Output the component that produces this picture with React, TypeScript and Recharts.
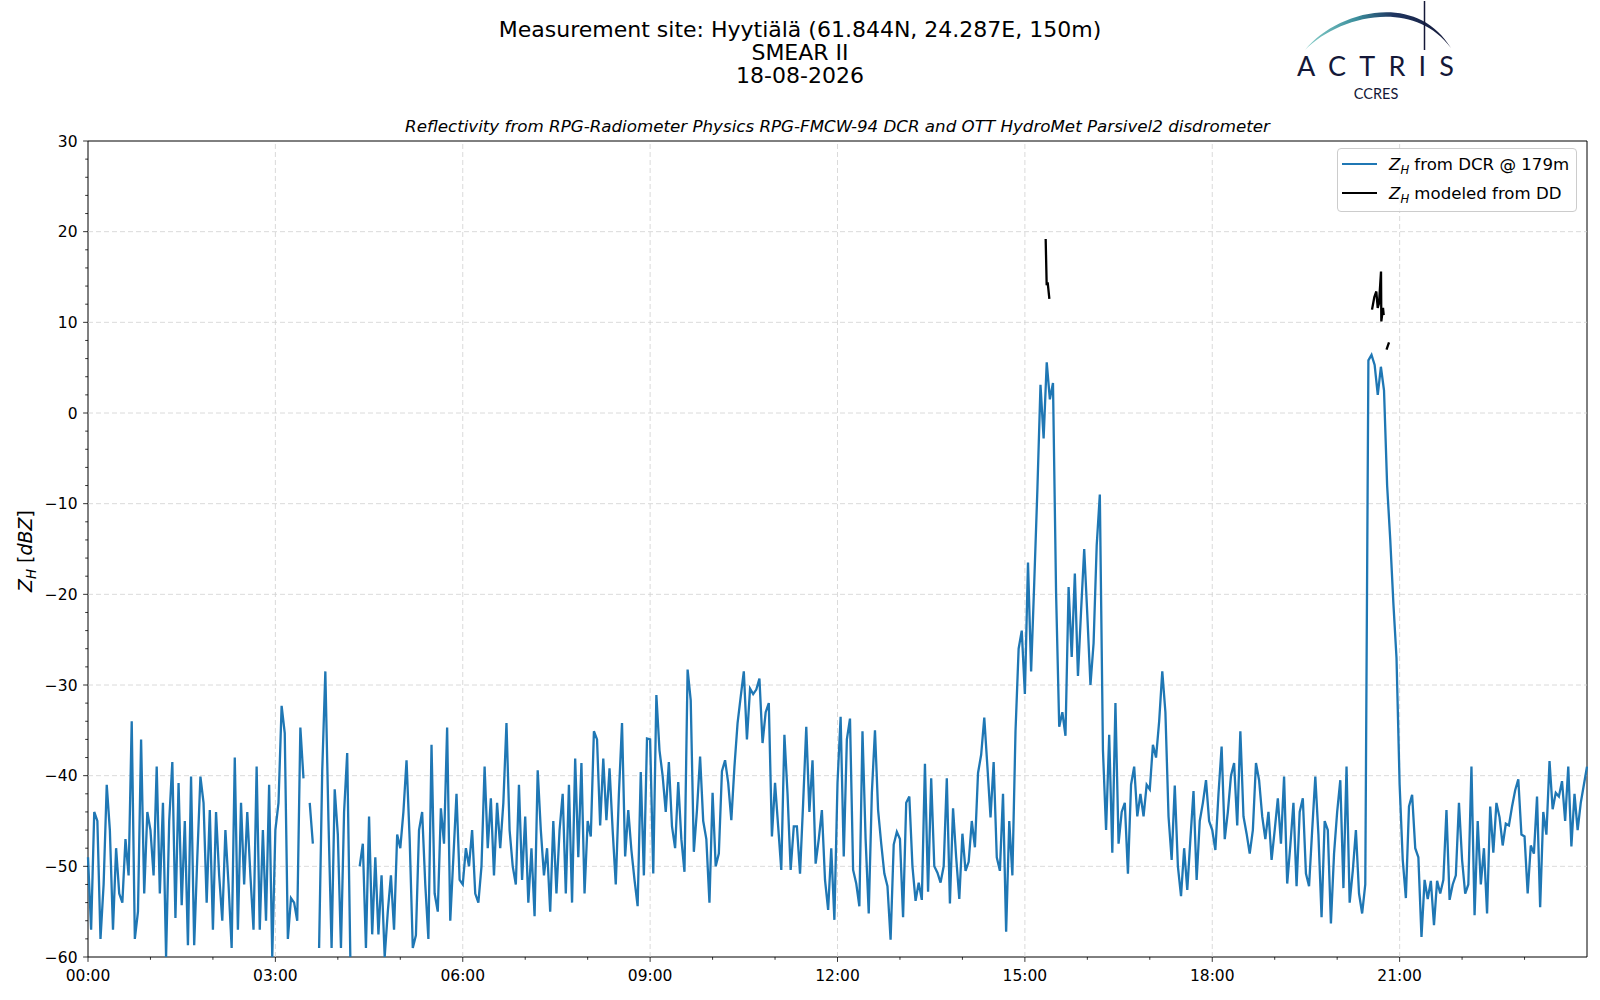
import { LineChart, Line, XAxis, YAxis, ReferenceLine, ReferenceArea, Legend } from 'recharts'

const FONT = '"DejaVu Sans", sans-serif'

// Z_H from DCR @ 179m [dBZ], 3-minute samples, one array per hour
const h00 = [-49, -57, -44, -45, -58, -52, -41, -46, -57, -48, -53, -54, -47, -51, -34, -58, -55, -36, -53, -44]
const h01 = [-46, -51, -39, -53, -43, -60, -45, -38.5, -55.7, -40.8, -54.3, -45, -58.7, -40.1, -58.7, -49, -40.1, -43, -54, -43.8]
const h02 = [-57, -44, -51, -56, -46, -52, -59, -38, -57, -43, -52, -44, -51, -57, -39, -57, -46, -56, -41, -60]
const h03 = [-46, -43, -32.3, -35.3, -58, -53.5, -54, -56, -34.7, -40.3, null, -43, -47.5, null, -59, -39.5, -28.5, -45, -59, -41.5]
const h04 = [-46.5, -59, -44, -37.5, -60, null, null, -50, -47.5, -59, -44.5, -57.5, -49, -57.5, -51, -60, -55, -51, -57, -46.5]
const h05 = [-48, -44, -38.3, -47, -59, -57.6, -46, -44, -52, -58, -36.6, -53, -55, -43.6, -47.5, -34.7, -56, -49, -42, -51.5]
const h06 = [-52, -48, -50, -46, -53, -54, -50, -39, -48, -42.5, -51, -43, -48, -43, -34.2, -46, -50, -52, -41, -51.5]
const h07 = [-44.5, -54, -48, -55.5, -39.4, -46, -51, -48, -55, -45, -53, -46, -42, -53, -41, -54, -38.1, -49, -38.6, -53]
const h08 = [-45, -46.7, -35.1, -36, -45.5, -38.1, -44.9, -39.2, -46, -52, -42, -34.2, -48.9, -43.8, -48.2, -51.5, -54.4, -39.6, -51, -35.9]
const h09 = [-36, -50.8, -31.1, -37.2, -40, -44, -38.5, -45.6, -48, -40.7, -47, -50.6, -28.3, -31.7, -48.4, -43.8, -37.9, -45, -47, -54]
const h10 = [-41.9, -50, -48.6, -39.5, -38.3, -40.8, -44.9, -39, -34.2, -31.3, -28.5, -36, -30.4, -31, -30.5, -29.3, -36.4, -33, -32, -46.7]
const h11 = [-40.8, -45.6, -50.4, -35.5, -42, -50.4, -45.6, -45.6, -50.8, -43, -34.6, -44, -38.3, -49.7, -47, -43.8, -51.5, -54.8, -48, -55.9]
const h12 = [-40.8, -33.5, -48.9, -36, -33.7, -50.4, -51.9, -54.4, -35.1, -47, -55.2, -41.9, -35, -43.8, -47.5, -50.8, -52.2, -58.1, -47.6, -46.2]
const h13 = [-47, -55.6, -43, -42.3, -50, -53.8, -51.8, -53.7, -38.7, -52.8, -40.3, -50, -50.7, -51.8, -50, -40.3, -54.1, -43.6, -49, -53.6]
const h14 = [-46.4, -50.5, -49.5, -45, -47.9, -39.7, -37.7, -33.6, -39, -44.6, -38.5, -49, -50.5, -42, -57.2, -45, -51, -35.1, -26, -24]
const h15 = [-31, -16.5, -28.5, -18.7, -8.5, 3.1, -2.8, 5.6, 1.5, 3.3, -20, -34.6, -33, -35.6, -19.2, -26.9, -17.7, -29, -21.8, -15]
const h16 = [-22.3, -30, -25.4, -14.6, -9, -37.2, -46, -35.5, -48.5, -32, -47.5, -44, -43, -50.8, -41, -39, -44.5, -42, -44.5, -41]
const h17 = [-41.5, -36.6, -38, -34, -28.5, -33, -44.5, -49.3, -41.1, -50, -53.3, -48, -52.6, -47, -41.7, -51.5, -45, -43, -40.5, -45]
const h18 = [-46, -48.2, -42, -36.8, -47, -44, -40, -38.6, -45.5, -35.1, -44.5, -46.4, -48.6, -46, -38.6, -40.5, -44.5, -47, -44, -49.3]
const h19 = [-46, -42.5, -47.5, -40.1, -51.9, -47.7, -43, -52.2, -44, -42.5, -50.8, -52.2, -46, -40.1, -46.5, -55.6, -45, -46, -56.3, -48.6]
const h20 = [-44, -40.5, -52.4, -39, -54, -50.5, -46, -53, -55.2, -52, 5.8, 6.4, 5.3, 2.0, 5.1, 2.5, -8, -14, -21, -27]
const h21 = [-41, -49.3, -53.5, -43.4, -42.1, -48, -49, -57.8, -51.5, -53.6, -51.6, -56.5, -51.6, -53, -51.5, -43.8, -53.7, -52, -51, -43]
const h22 = [-49.3, -53, -52, -39, -55.4, -45, -52, -48, -55.2, -43.4, -48.5, -43, -44.6, -47.7, -45.3, -45.5, -43.4, -41.6, -40.4, -46.5]
const h23 = [-46.7, -53, -47.7, -48.6, -42.3, -54.5, -44, -46.5, -38.4, -43.7, -41.9, -42.3, -40.6, -45, -39, -47.8, -42, -46, -43, -41]
const lastValue = -39
const stepHours = 0.05

// Z_H modeled from the disdrometer (gaps as null)
const ddTimes = [15.333, 15.349, 15.365, 15.392, 15.4, 20.558, 20.595, 20.627, 20.649, 20.67, 20.702, 20.707, 20.734, 20.745, 20.76, 20.79, 20.83]
const ddValues = [19.2, 14.1, 14.4, 12.6, null, 11.4, 12.8, 13.4, 11.6, 12.1, 15.6, 10.1, 11.6, 10.8, null, 7.0, 7.8]

const xTickLabels = ['00:00', '03:00', '06:00', '09:00', '12:00', '15:00', '18:00', '21:00']
const xTicks = Array.from({ length: 24 }, (_, i) => i)
const xGrid = [3, 6, 9, 12, 15, 18, 21]
const yTicks = Array.from({ length: 46 }, (_, i) => -60 + 2 * i)
const yGrid = [-50, -40, -30, -20, -10, 0, 10, 20]

const hourly = [h00, h01, h02, h03, h04, h05, h06, h07, h08, h09, h10, h11, h12, h13, h14, h15, h16, h17, h18, h19, h20, h21, h22, h23]
const dcrData = hourly
  .flatMap((vals, h) => vals.map((v, i) => ({ t: h + i * stepHours, v })))
  .concat([{ t: 24, v: lastValue }])
const ddData = ddTimes.map((t, i) => ({ t, v: ddValues[i] }))

const XTick = (props: any) => {
  const { x, y, payload } = props
  const h = payload.value
  const major = h % 3 === 0
  return (
    <g>
      <line x1={x} x2={x} y1={y} y2={y + (major ? 4.9 : 2.8)} stroke="#000" strokeWidth={0.8} />
      {major && (
        <text x={x} y={y + 23.5} textAnchor="middle" fontSize={15.5} fontFamily={FONT} fill="#000">
          {xTickLabels[h / 3]}
        </text>
      )}
    </g>
  )
}

const YTick = (props: any) => {
  const { x, y, payload } = props
  const v = payload.value
  const major = v % 10 === 0
  return (
    <g>
      <line x1={x} x2={x - (major ? 4.9 : 2.8)} y1={y} y2={y} stroke="#000" strokeWidth={0.8} />
      {major && (
        <text x={x - 10.5} y={y + 5.5} textAnchor="end" fontSize={15.5} fontFamily={FONT} fill="#000">
          {v < 0 ? '\u2212' + Math.abs(v) : String(v)}
        </text>
      )}
    </g>
  )
}

const LegendBox = () => (
  <div
    style={{
      width: 240,
      height: 64,
      boxSizing: 'border-box',
      border: '1px solid #cccccc',
      borderRadius: 4,
      background: 'rgba(255,255,255,0.8)',
    }}
  >
    <svg width={238} height={62} style={{ display: 'block' }}>
      <line x1={4} x2={39} y1={15} y2={15} stroke="#1f77b4" strokeWidth={2.2} />
      <text x={51} y={21} fontSize={16.6} fontFamily={FONT} fill="#000">
        <tspan fontStyle="italic">Z</tspan>
        <tspan fontStyle="italic" fontSize={11.6} dy={3.8}>H</tspan>
        <tspan dy={-3.8}> from DCR @ 179m</tspan>
      </text>
      <line x1={4} x2={39} y1={44} y2={44} stroke="#000" strokeWidth={2.2} />
      <text x={51} y={50} fontSize={16.6} fontFamily={FONT} fill="#000">
        <tspan fontStyle="italic">Z</tspan>
        <tspan fontStyle="italic" fontSize={11.6} dy={3.8}>H</tspan>
        <tspan dy={-3.8}> modeled from DD</tspan>
      </text>
    </svg>
  </div>
)

export default function App() {
  return (
    <div style={{ position: 'absolute', left: 0, top: 0, width: 1600, height: 1000, background: '#fff' }}>
      <LineChart width={1600} height={1000} margin={{ top: 141, right: 13, bottom: 13, left: 28 }}>
        <XAxis
          dataKey="t"
          type="number"
          domain={[0, 24]}
          ticks={xTicks}
          interval={0}
          height={30}
          tickSize={0}
          tickMargin={0}
          tickLine={false}
          axisLine={false}
          tick={<XTick />}
        />
        <YAxis
          type="number"
          domain={[-60, 30]}
          ticks={yTicks}
          interval={0}
          width={60}
          tickSize={0}
          tickMargin={0}
          tickLine={false}
          axisLine={false}
          tick={<YTick />}
        />
        {xGrid.map(h => (
          <ReferenceLine key={'gx' + h} x={h} stroke="#d0d0d0" strokeDasharray="5 3" strokeWidth={0.8} />
        ))}
        {yGrid.map(v => (
          <ReferenceLine key={'gy' + v} y={v} stroke="#d0d0d0" strokeDasharray="5 3" strokeWidth={0.8} />
        ))}
        <Line
          data={dcrData}
          dataKey="v"
          name="dcr"
          type="linear"
          stroke="#1f77b4"
          strokeWidth={2.3}
          dot={false}
          connectNulls={false}
          isAnimationActive={false}
        />
        <Line
          data={ddData}
          dataKey="v"
          name="dd"
          type="linear"
          stroke="#000"
          strokeWidth={2.3}
          dot={false}
          connectNulls={false}
          isAnimationActive={false}
        />
        <ReferenceArea x1={0} x2={24} y1={-60} y2={30} fill="none" stroke="#000" strokeWidth={1} />
        <Legend
          layout="vertical"
          align="center"
          verticalAlign="middle"
          content={<LegendBox />}
          wrapperStyle={{ left: 1337, top: 148, width: 240, height: 64 }}
        />
      </LineChart>

      <svg width={1600} height={1000} style={{ position: 'absolute', left: 0, top: 0, pointerEvents: 'none' }}>
        <g fontFamily={FONT} fill="#000" textAnchor="middle" fontSize={22}>
          <text x={800} y={36.5}>Measurement site: Hyytiälä (61.844N, 24.287E, 150m)</text>
          <text x={800} y={59.5}>SMEAR II</text>
          <text x={800} y={83}>18-08-2026</text>
        </g>
        <text x={837.5} y={132} textAnchor="middle" fontSize={16.7} fontStyle="italic" fontFamily={FONT} fill="#000">
          Reflectivity from RPG-Radiometer Physics RPG-FMCW-94 DCR and OTT HydroMet Parsivel2 disdrometer
        </text>
        <text transform="translate(31.5,551) rotate(-90)" textAnchor="middle" fontSize={19} fontFamily={FONT} fill="#000">
          <tspan fontStyle="italic">Z</tspan>
          <tspan fontStyle="italic" fontSize={13.3} dy={4}>H</tspan>
          <tspan dy={-4}> [</tspan>
          <tspan fontStyle="italic">dBZ</tspan>
          <tspan>]</tspan>
        </text>
        {/* ACTRIS / CCRES logo */}
        <defs>
          <linearGradient id="arcGrad" gradientUnits="userSpaceOnUse" x1={1306} y1={0} x2={1451} y2={0}>
            <stop offset="0" stopColor="#86cdc8" />
            <stop offset="0.35" stopColor="#3b8e9c" />
            <stop offset="0.6" stopColor="#1f3560" />
            <stop offset="1" stopColor="#141838" />
          </linearGradient>
        </defs>
        <path d="M1305 50 C1336 11, 1416 -10, 1451 48 C1413 -3, 1338 16, 1305 50 Z" fill="url(#arcGrad)" />
        <line x1={1424.5} x2={1424.5} y1={1} y2={50} stroke="#141838" strokeWidth={1.5} />
        <text x={1297} y={76} textLength={157} lengthAdjust="spacing" fontSize={27} fontFamily="Lato, sans-serif" fill="#141838">
          ACTRIS
        </text>
        <text x={1376} y={99} textAnchor="middle" fontSize={14.5} fontFamily="Lato, sans-serif" fill="#141838">
          CCRES
        </text>
      </svg>
    </div>
  )
}
